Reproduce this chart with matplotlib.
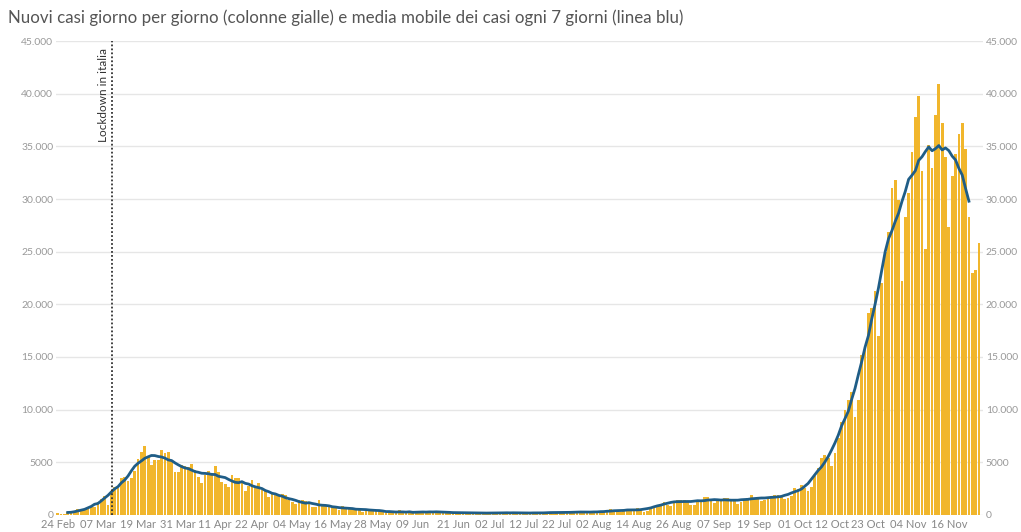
import numpy as np
import pandas as pd
import matplotlib
matplotlib.use('Agg')
import matplotlib.pyplot as plt

# ============================================
# DATA (nuovi positivi giornalieri, Italia 2020)
# ============================================
start_date = '2020-02-24'

cases_feb = [221, 93, 78, 250, 238, 240]
cases_mar = [566, 342, 466, 587, 769, 778, 1247, 1492, 1797, 977, 2313, 2651, 2547, 3497, 3590, 3233,
             3526, 4207, 5322, 5986, 6557, 5560, 4789, 5249, 5210, 6203, 5909, 5974, 5217, 4050, 4053]
cases_apr = [4782, 4668, 4585, 4805, 4316, 3599, 3039, 3836, 4204, 3951, 4694, 4092, 3153, 2972, 2667,
             3786, 3493, 3491, 3047, 2256, 2729, 3370, 2646, 3021, 2357, 2324, 1739, 2091, 2086, 1872]
cases_may = [1965, 1900, 1389, 1221, 1075, 1444, 1401, 1327, 1083, 802, 744, 1402, 888, 992, 789, 875,
             675, 451, 813, 665, 642, 652, 669, 531, 300, 397, 584, 593, 516, 416, 355]
cases_jun = [178, 318, 321, 177, 518, 270, 197, 280, 283, 202, 379, 163, 346, 338, 301, 210, 328, 333,
             251, 262, 224, 218, 122, 190, 296, 259, 175, 174, 126, 142]
cases_jul = [187, 201, 223, 235, 192, 208, 138, 193, 229, 276, 188, 234, 169, 114, 163, 230, 233, 249,
             219, 190, 129, 282, 306, 252, 275, 255, 170, 212, 289, 386, 379]
cases_aug = [295, 239, 159, 190, 384, 402, 552, 347, 463, 259, 412, 481, 523, 574, 629, 479, 320, 403,
             642, 845, 947, 1071, 1210, 953, 878, 1367, 1411, 1462, 1444, 1365, 996]
cases_sep = [978, 1326, 1397, 1733, 1695, 1297, 1108, 1370, 1434, 1597, 1616, 1501, 1458, 1008, 1229,
             1452, 1585, 1907, 1638, 1587, 1350, 1392, 1640, 1786, 1912, 1869, 1766, 1494, 1648, 1851]
cases_oct = [2548, 2499, 2844, 2578, 2257, 2677, 3678, 4458, 5372, 5724, 5456, 4619, 5901, 7332, 8804,
             10010, 10925, 11705, 9338, 10874, 15199, 16079, 19143, 19644, 21273, 17012, 21994, 24991,
             26831, 31084, 31758]
cases_nov = [29907, 22253, 28244, 30550, 34505, 37809, 39811, 32616, 25271, 35098, 32961, 37978, 40902,
             37255, 33979, 27354, 32191, 34282, 36176, 37242, 34767, 28337, 22930, 23232, 25853]

tick_dates = ['2020-02-24', '2020-03-07', '2020-03-19', '2020-03-31', '2020-04-11', '2020-04-22',
              '2020-05-04', '2020-05-16', '2020-05-28', '2020-06-09', '2020-06-21', '2020-07-02',
              '2020-07-12', '2020-07-22', '2020-08-02', '2020-08-14', '2020-08-26', '2020-09-07',
              '2020-09-19', '2020-10-01', '2020-10-12', '2020-10-23', '2020-11-04', '2020-11-16']

y_ticks = [0, 5000, 10000, 15000, 20000, 25000, 30000, 35000, 40000, 45000]
y_labels = ['0', '5000', '10.000', '15.000', '20.000', '25.000', '30.000', '35.000', '40.000', '45.000']

lockdown_date = '2020-03-11'

TITLE = 'Nuovi casi giorno per giorno (colonne gialle) e media mobile dei casi ogni 7 giorni (linea blu)'

# ============================================
# PLOT
# ============================================
plt.rcParams['font.family'] = ['Lato', 'DejaVu Sans']

cases = pd.Series(cases_feb + cases_mar + cases_apr + cases_may + cases_jun + cases_jul
                  + cases_aug + cases_sep + cases_oct + cases_nov)
dates = pd.date_range(start_date, periods=len(cases), freq='D')
x = np.arange(len(cases))
avg7 = cases.rolling(7, center=True).mean()

fig = plt.figure(figsize=(10.21, 5.32), dpi=100)
ax = fig.add_axes([56 / 1021, 17 / 532, 927 / 1021, 474 / 532])

ax.bar(x, cases, width=0.82, color='#F1B62C', zorder=2)
ax.plot(x, avg7, color='#1F5D87', lw=2, zorder=3)

# lockdown marker
lx = (pd.Timestamp(lockdown_date) - dates[0]).days + 0.2
ax.plot([lx, lx], [0, 45000], color='#333333', lw=1.3, ls=(0, (1, 1.2)), zorder=4)
ax.text(lx - 1.0, 44300, 'Lockdown in italia', rotation=90, ha='right', va='top',
        fontsize=8.5, color='#333333')

ax.set_xlim(-0.5, 276.2)
ax.set_ylim(0, 45000)

tick_pos = [(pd.Timestamp(d) - dates[0]).days for d in tick_dates]
ax.set_xticks(tick_pos)
ax.set_xticklabels([pd.Timestamp(d).strftime('%d %b') for d in tick_dates])
ax.set_yticks(y_ticks)
ax.set_yticklabels(y_labels)
ax.tick_params(axis='y', labelright=True, length=0, pad=2, labelsize=7.5, labelcolor='#999999')
ax.tick_params(axis='x', length=0, pad=3, labelsize=8, labelcolor='#888888')

ax.grid(axis='y', color='#E6E6E6', lw=1, zorder=0)
ax.set_axisbelow(True)
for s in ax.spines.values():
    s.set_visible(False)

fig.text(8 / 1021, 1 - 18 / 532, TITLE, fontsize=12.2, color='#555555', va='center', ha='left')

fig.savefig('out.png', dpi=100)
